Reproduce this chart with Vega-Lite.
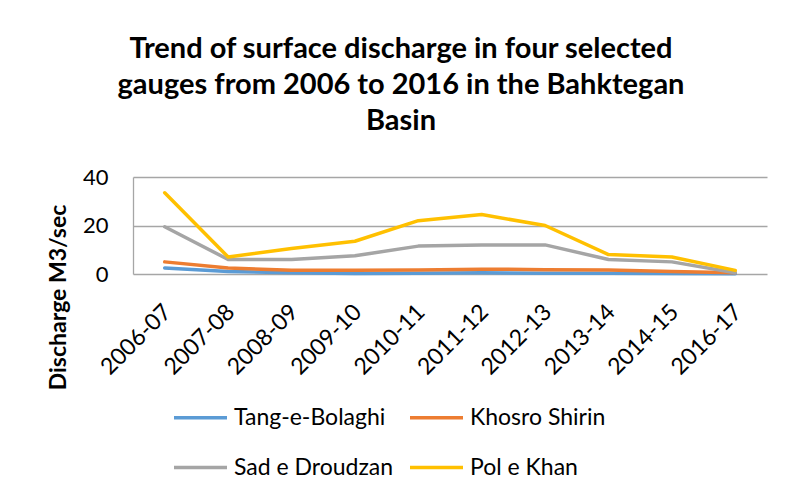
{
  "$schema": "https://vega.github.io/schema/vega-lite/v6.json",
  "width": 634,
  "height": 97,
  "autosize": {"type": "none"},
  "padding": {"left": 133, "top": 177, "right": 18, "bottom": 228},
  "background": "white",
  "config": {
    "font": "Lato",
    "view": {"stroke": null}
  },
  "title": {
    "text": ["Trend of surface discharge in four selected", "gauges from 2006 to 2016 in the Bahktegan", "Basin"],
    "fontSize": 29,
    "fontWeight": "bold",
    "color": "#000000",
    "lineHeight": 36,
    "anchor": "middle",
    "dx": -49,
    "offset": 30
  },
  "data": {
    "values": [
      {"year": "2006-07", "gauge": "Tang-e-Bolaghi", "q": 2.5},
      {"year": "2007-08", "gauge": "Tang-e-Bolaghi", "q": 1.0},
      {"year": "2008-09", "gauge": "Tang-e-Bolaghi", "q": 0.5},
      {"year": "2009-10", "gauge": "Tang-e-Bolaghi", "q": 0.2},
      {"year": "2010-11", "gauge": "Tang-e-Bolaghi", "q": 0.3},
      {"year": "2011-12", "gauge": "Tang-e-Bolaghi", "q": 0.5},
      {"year": "2012-13", "gauge": "Tang-e-Bolaghi", "q": 0.3},
      {"year": "2013-14", "gauge": "Tang-e-Bolaghi", "q": 0.3},
      {"year": "2014-15", "gauge": "Tang-e-Bolaghi", "q": 0.2},
      {"year": "2016-17", "gauge": "Tang-e-Bolaghi", "q": 0.1},
      {"year": "2006-07", "gauge": "Khosro Shirin", "q": 5.0},
      {"year": "2007-08", "gauge": "Khosro Shirin", "q": 2.5},
      {"year": "2008-09", "gauge": "Khosro Shirin", "q": 1.5},
      {"year": "2009-10", "gauge": "Khosro Shirin", "q": 1.5},
      {"year": "2010-11", "gauge": "Khosro Shirin", "q": 1.7},
      {"year": "2011-12", "gauge": "Khosro Shirin", "q": 2.0},
      {"year": "2012-13", "gauge": "Khosro Shirin", "q": 1.8},
      {"year": "2013-14", "gauge": "Khosro Shirin", "q": 1.7},
      {"year": "2014-15", "gauge": "Khosro Shirin", "q": 1.0},
      {"year": "2016-17", "gauge": "Khosro Shirin", "q": 0.5},
      {"year": "2006-07", "gauge": "Sad e Droudzan", "q": 19.5},
      {"year": "2007-08", "gauge": "Sad e Droudzan", "q": 6.0},
      {"year": "2008-09", "gauge": "Sad e Droudzan", "q": 6.0},
      {"year": "2009-10", "gauge": "Sad e Droudzan", "q": 7.5},
      {"year": "2010-11", "gauge": "Sad e Droudzan", "q": 11.5},
      {"year": "2011-12", "gauge": "Sad e Droudzan", "q": 12.0},
      {"year": "2012-13", "gauge": "Sad e Droudzan", "q": 12.0},
      {"year": "2013-14", "gauge": "Sad e Droudzan", "q": 6.0},
      {"year": "2014-15", "gauge": "Sad e Droudzan", "q": 5.0},
      {"year": "2016-17", "gauge": "Sad e Droudzan", "q": 0.5},
      {"year": "2006-07", "gauge": "Pol e Khan", "q": 33.5},
      {"year": "2007-08", "gauge": "Pol e Khan", "q": 7.0},
      {"year": "2008-09", "gauge": "Pol e Khan", "q": 10.5},
      {"year": "2009-10", "gauge": "Pol e Khan", "q": 13.5},
      {"year": "2010-11", "gauge": "Pol e Khan", "q": 22.0},
      {"year": "2011-12", "gauge": "Pol e Khan", "q": 24.5},
      {"year": "2012-13", "gauge": "Pol e Khan", "q": 20.0},
      {"year": "2013-14", "gauge": "Pol e Khan", "q": 8.0},
      {"year": "2014-15", "gauge": "Pol e Khan", "q": 7.0},
      {"year": "2016-17", "gauge": "Pol e Khan", "q": 1.5}
    ]
  },
  "mark": {"type": "line", "strokeWidth": 3.5, "strokeCap": "round", "strokeJoin": "round"},
  "encoding": {
    "x": {
      "field": "year",
      "type": "nominal",
      "sort": null,
      "scale": {"type": "band", "paddingInner": 0, "paddingOuter": 0},
      "axis": {
        "title": null,
        "labelAngle": -45,
        "labelAlign": "right",
        "labelBaseline": "middle",
        "labelFontSize": 23,
        "labelColor": "#000000",
        "labelPadding": 34,
        "labelOffset": 3,
        "ticks": false,
        "domain": false,
        "grid": false
      }
    },
    "y": {
      "field": "q",
      "type": "quantitative",
      "scale": {"domain": [0, 40], "nice": false},
      "axis": {
        "title": "Discharge M3/sec",
        "titleFontSize": 23,
        "titleFontWeight": "bold",
        "titleColor": "#000000",
        "titleAngle": -90,
        "titleAlign": "center",
        "titleBaseline": "middle",
        "titleX": -75,
        "titleY": 120,
        "values": [0, 20, 40],
        "labelFontSize": 22,
        "labelColor": "#000000",
        "labelPadding": 25,
        "ticks": false,
        "domain": true,
        "domainColor": "#a6a6a6",
        "domainWidth": 1.3,
        "grid": true,
        "gridColor": "#a6a6a6",
        "gridWidth": 1.3
      }
    },
    "color": {
      "field": "gauge",
      "type": "nominal",
      "scale": {
        "domain": ["Tang-e-Bolaghi", "Khosro Shirin", "Sad e Droudzan", "Pol e Khan"],
        "range": ["#5B9BD5", "#ED7D31", "#A5A5A5", "#FFC000"]
      },
      "legend": {
        "title": null,
        "orient": "none",
        "direction": "horizontal",
        "legendX": 39,
        "legendY": 212,
        "columns": 2,
        "symbolType": "stroke",
        "symbolSize": 2809,
        "symbolStrokeWidth": 3.5,
        "labelFontSize": 23,
        "labelColor": "#000000",
        "labelOffset": 5,
        "rowPadding": 9,
        "columnPadding": 9
      }
    }
  }
}
